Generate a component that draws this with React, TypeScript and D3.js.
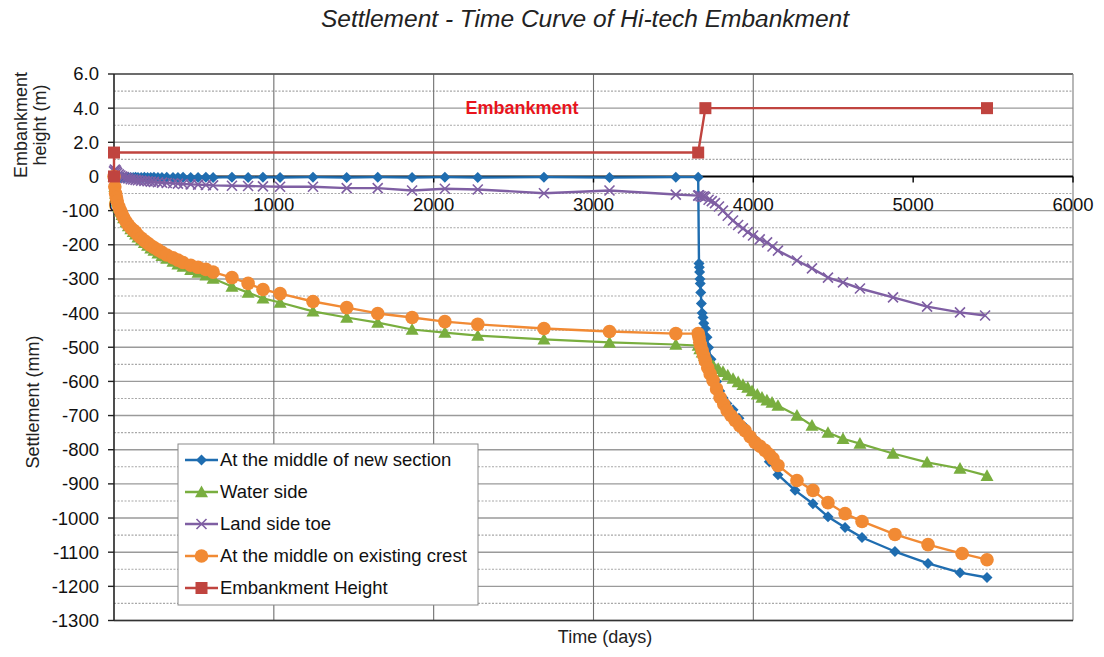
import React from "react";
import * as d3 from "d3";

// ---------- data ----------
const xTickValues = [0, 1000, 2000, 3000, 4000, 5000, 6000];
const settlementTicks = [-100, -200, -300, -400, -500, -600, -700, -800, -900, -1000, -1100, -1200, -1300];
const heightTicks = [6.0, 4.0, 2.0];

const preDays = [0, 5, 10, 15, 20, 30, 40, 50, 60, 75, 90, 105, 120, 135, 150, 170, 190, 210, 230, 250, 275, 300, 330, 369, 400, 432, 480, 526, 575, 620, 738, 839, 932, 1039, 1245, 1456, 1650, 1865, 2070, 2276, 2690, 3100, 3515, 3655];

const newSectionPre = [0, -1, -1, -2, -2, -2, -3, -2, -3, -3, -2, -3, -3, -2, -3, -3, -2, -3, -3, -2, -3, -3, -2, -3, -3, -2, -3, -3, -2, -3, -2, -3, -2, -3, -2, -3, -2, -3, -2, -3, -2, -3, -2, -2];
const newSectionPostDays = [3660, 3662, 3664, 3666, 3668, 3671, 3675, 3680, 3685, 3690, 3700, 3710, 3720, 3735, 3750, 3770, 3790, 3810, 3835, 3873, 3910, 3950, 4000, 4042, 4100, 4154, 4261, 4373, 4467, 4574, 4680, 4886, 5093, 5293, 5462];
const newSectionPost = [-255, -266, -280, -300, -313, -340, -372, -400, -413, -430, -445, -471, -501, -535, -565, -600, -628, -648, -665, -683, -708, -735, -765, -792, -835, -873, -919, -958, -996, -1028, -1057, -1098, -1133, -1160, -1174];

const waterSidePre = [0, -30, -50, -62, -73, -90, -102, -112, -122, -134, -145, -154, -162, -169, -178, -186, -194, -202, -210, -217, -225, -232, -240, -249, -257, -264, -273, -281, -289, -299, -322, -340, -357, -369, -395, -413, -428, -448, -457, -466, -477, -486, -492, -495];
const waterSidePostDays = [3665, 3680, 3695, 3710, 3730, 3750, 3780, 3810, 3840, 3873, 3905, 3935, 3965, 3992, 4025, 4054, 4085, 4117, 4154, 4273, 4367, 4467, 4561, 4667, 4874, 5087, 5293, 5462];
const waterSidePost = [-505, -515, -525, -535, -545, -555, -563, -572, -582, -592, -602, -610, -618, -628, -638, -647, -655, -662, -671, -700, -729, -750, -768, -782, -811, -837, -855, -876];

const landToePre = [15, 20, 18, 14, 10, 6, 3, 0, -2, -4, -6, -8, -9, -10, -11, -12, -13, -14, -15, -16, -17, -18, -19, -20, -21, -22, -23, -24, -25, -26, -27, -28, -29, -30, -30, -34, -34, -41, -36, -38, -49, -41, -53, -56];
const landToePostDays = [3660, 3670, 3680, 3690, 3698, 3720, 3740, 3760, 3785, 3810, 3840, 3873, 3905, 3935, 3965, 3998, 4040, 4086, 4120, 4154, 4273, 4367, 4467, 4561, 4667, 4874, 5087, 5293, 5450];
const landToePost = [-55, -58, -60, -58, -60, -68, -72, -78, -88, -100, -115, -129, -142, -152, -163, -173, -184, -193, -205, -217, -246, -269, -296, -310, -328, -354, -381, -398, -407];

const crestPre = [0, -30, -50, -62, -72, -88, -100, -110, -120, -132, -142, -150, -157, -163, -172, -180, -188, -195, -202, -208, -215, -222, -230, -238, -245, -252, -260, -266, -272, -280, -296, -313, -331, -343, -366, -384, -401, -413, -425, -433, -445, -454, -460, -460];
const crestPostDays = [3660, 3665, 3670, 3680, 3690, 3700, 3715, 3730, 3748, 3770, 3792, 3815, 3836, 3860, 3886, 3915, 3948, 3980, 4011, 4042, 4073, 4100, 4123, 4154, 4273, 4373, 4467, 4574, 4680, 4886, 5093, 5306, 5462];
const crestPost = [-470, -485, -495, -510, -525, -540, -560, -578, -597, -622, -647, -667, -685, -700, -714, -730, -744, -762, -779, -790, -802, -814, -826, -846, -890, -919, -955, -987, -1010, -1048, -1078, -1104, -1122];

const embankmentDays = [0, 0, 3655, 3700, 5462];
const embankmentHeights = [0, 1.4, 1.4, 4.0, 4.0];

const seriesNames = [
  "At the middle of new section",
  "Water side",
  "Land side toe",
  "At the middle on existing crest",
  "Embankment Height",
];
const seriesColors = ["#1f6db0", "#79ae3f", "#7f5fa3", "#f18a34", "#c0443f"];

// ---------- layout ----------
const W = 1104;
const H = 657;
const X0 = 114;
const X1 = 1073;
const YT = 74;
const YB = 620.5;
const FONT = "'Liberation Sans', Arial, sans-serif";

type Pt = [number, number];

function zip(days: number[], vals: number[]): Pt[] {
  return days.map((d, i) => [d, vals[i]] as Pt);
}

function Marker({ kind, x, y, color }: { kind: string; x: number; y: number; color: string }) {
  if (kind === "diamond") {
    const s = 5.5;
    return <path d={`M${x},${y - s}L${x + s},${y}L${x},${y + s}L${x - s},${y}Z`} fill={color} />;
  }
  if (kind === "triangle") {
    const s = 6.5;
    return <path d={`M${x},${y - s}L${x + s},${y + s * 0.8}L${x - s},${y + s * 0.8}Z`} fill={color} />;
  }
  if (kind === "x") {
    const s = 5;
    return (
      <path
        d={`M${x - s},${y - s}L${x + s},${y + s}M${x - s},${y + s}L${x + s},${y - s}`}
        stroke={color}
        strokeWidth={1.6}
        fill="none"
      />
    );
  }
  if (kind === "circle") {
    return <circle cx={x} cy={y} r={6.8} fill={color} />;
  }
  const s = 6;
  return <rect x={x - s} y={y - s} width={2 * s} height={2 * s} fill={color} />;
}

export default function App() {
  const x = d3.scaleLinear().domain([0, 6000]).range([X0, X1]);
  const y = d3.scaleLinear().domain([-1300, 300]).range([YB, YT]);
  const yh = d3.scaleLinear().domain([0, 6]).range([y(0), y(300)]);

  const series = [
    { pts: zip(preDays, newSectionPre).concat(zip(newSectionPostDays, newSectionPost)), kind: "diamond", width: 2.4, h: false },
    { pts: zip(preDays, waterSidePre).concat(zip(waterSidePostDays, waterSidePost)), kind: "triangle", width: 2.2, h: false },
    { pts: zip(preDays, landToePre).concat(zip(landToePostDays, landToePost)), kind: "x", width: 2.4, h: false },
    { pts: zip(preDays, crestPre).concat(zip(crestPostDays, crestPost)), kind: "circle", width: 2.4, h: false },
    { pts: zip(embankmentDays, embankmentHeights), kind: "square", width: 2.4, h: true },
  ];

  const gridVals = d3.range(-1300, 301, 50);
  const vGrid = [1000, 2000, 3000, 4000];

  return (
    <svg width={W} height={H} style={{ position: "absolute", left: 0, top: 0, background: "#fff" }} fontFamily={FONT}>
      <rect x={0} y={0} width={W} height={H} fill="#fff" />
      {/* title */}
      <text x={585} y={27} textAnchor="middle" fontSize={24.5} fontStyle="italic" fill="#222">
        Settlement - Time Curve of Hi-tech Embankment
      </text>

      {/* horizontal grid */}
      {gridVals.map((v) => {
        if (v === 0) return null;
        const major = v % 100 === 0;
        return (
          <line
            key={"g" + v}
            x1={X0}
            x2={X1}
            y1={y(v)}
            y2={y(v)}
            stroke={major ? "#9a9a9a" : "#a8a8a8"}
            strokeWidth={major ? 1.4 : 1.1}
            strokeDasharray={major ? undefined : "2,1.5"}
          />
        );
      })}
      {/* vertical grid */}
      {vGrid.map((v) => (
        <line key={"v" + v} x1={x(v)} x2={x(v)} y1={YT} y2={YB} stroke="#6f6f6f" strokeWidth={1.1} />
      ))}
      {/* borders */}
      <line x1={X0} x2={X1} y1={YT} y2={YT} stroke="#555" strokeWidth={1.4} />
      <line x1={X1} x2={X1} y1={YT} y2={YB} stroke="#888" strokeWidth={1.2} />
      <line x1={X0} x2={X1} y1={YB} y2={YB} stroke="#333" strokeWidth={1.6} />
      <line x1={X0} x2={X0} y1={YT} y2={YB} stroke="#222" strokeWidth={1.6} />
      {/* left ticks */}
      {d3.range(-1300, 301, 100).map((v) => (
        <line key={"lt" + v} x1={X0 - 6} x2={X0} y1={y(v)} y2={y(v)} stroke="#222" strokeWidth={1.4} />
      ))}
      {/* zero axis */}
      <line x1={X0} x2={X1} y1={y(0)} y2={y(0)} stroke="#000" strokeWidth={2} />
      {xTickValues.map((v) => (
        <line key={"xt" + v} x1={x(v)} x2={x(v)} y1={y(0)} y2={y(0) + 6} stroke="#000" strokeWidth={1.4} />
      ))}

      {/* tick labels */}
      {heightTicks.map((v) => (
        <text key={"ht" + v} x={99} y={yh(v)} dy="0.35em" textAnchor="end" fontSize={18.5} fill="#111">
          {v.toFixed(1)}
        </text>
      ))}
      <text x={99} y={y(0)} dy="0.35em" textAnchor="end" fontSize={18.5} fill="#111">
        0
      </text>
      {settlementTicks.map((v) => (
        <text key={"st" + v} x={99} y={y(v)} dy="0.35em" textAnchor="end" fontSize={18.5} fill="#111">
          {v}
        </text>
      ))}
      {xTickValues.map((v) => (
        <text key={"xl" + v} x={x(v)} y={211} textAnchor="middle" fontSize={18.5} fill="#111">
          {v}
        </text>
      ))}

      {/* axis titles */}
      <text transform={`translate(27,125) rotate(-90)`} textAnchor="middle" fontSize={18} fill="#222">
        Embankment
      </text>
      <text transform={`translate(46,125) rotate(-90)`} textAnchor="middle" fontSize={18} fill="#222">
        height (m)
      </text>
      <text transform={`translate(39,402) rotate(-90)`} textAnchor="middle" fontSize={18} fill="#222">
        Settlement (mm)
      </text>
      <text x={605} y={643} textAnchor="middle" fontSize={18} fill="#222">
        Time (days)
      </text>

      {/* series */}
      {series.map((s, i) => {
        const yy = (v: number) => (s.h ? yh(v) : y(v));
        const line = d3
          .line<Pt>()
          .x((d) => x(d[0]))
          .y((d) => yy(d[1]));
        return (
          <g key={"s" + i}>
            <path d={line(s.pts) || ""} fill="none" stroke={seriesColors[i]} strokeWidth={s.width} strokeLinejoin="round" />
            {s.pts.map((p, j) => (
              <Marker key={j} kind={s.kind} x={x(p[0])} y={yy(p[1])} color={seriesColors[i]} />
            ))}
          </g>
        );
      })}

      {/* annotation */}
      <text x={522} y={114} textAnchor="middle" fontSize={18} fontWeight="bold" fill="#e8141c">
        Embankment
      </text>

      {/* legend */}
      <rect x={178} y={444} width={300} height={161} fill="#fff" stroke="#8a8a8a" strokeWidth={1} />
      {seriesNames.map((name, i) => {
        const ly = 460 + i * 32;
        const kinds = ["diamond", "triangle", "x", "circle", "square"];
        return (
          <g key={"lg" + i}>
            <line x1={185} x2={218} y1={ly} y2={ly} stroke={seriesColors[i]} strokeWidth={2.4} />
            <Marker kind={kinds[i]} x={201.5} y={ly} color={seriesColors[i]} />
            <text x={220} y={ly} dy="0.35em" fontSize={18.5} fill="#111">
              {name}
            </text>
          </g>
        );
      })}
    </svg>
  );
}
